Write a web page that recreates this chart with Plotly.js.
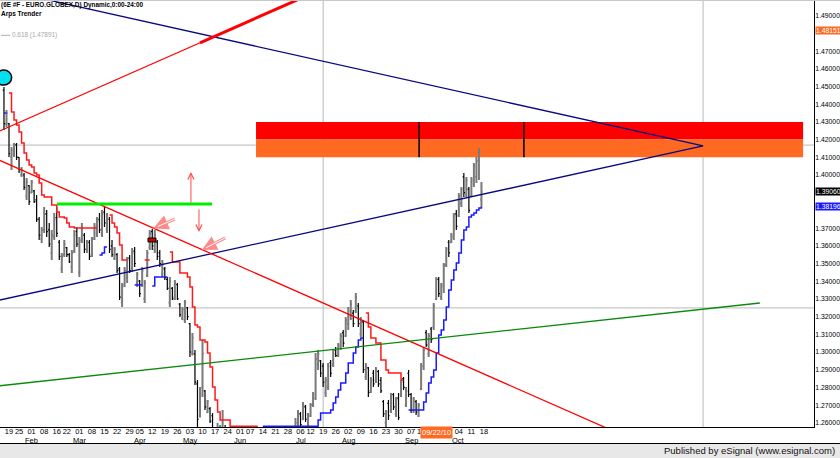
<!DOCTYPE html>
<html><head><meta charset="utf-8">
<script src="https://cdn.plot.ly/plotly-3.0.1.min.js"></script>
<style>html,body{margin:0;padding:0;background:#fff}#chart{width:840px;height:458px}</style>
</head><body><div id="chart"></div>
<script>
const N = null;
// trading-day index of first bar (0 = 19 Jan 2010)
const FIRST_INDEX = -2;
const open = [
1.4480,1.4290,1.4290,1.4100,1.4120,1.4170,1.4100,1.4000,1.4000,1.3880,
1.3940,1.3900,1.3910,1.3860,1.3750,1.3640,1.3690,1.3780,1.3690,1.3560,
1.3650,1.3760,1.3620,1.3470,1.3550,1.3590,1.3550,1.3480,1.3570,1.3680,
1.3450,1.3630,1.3660,1.3580,1.3620,1.3550,1.3640,1.3670,1.3750,1.3670,
1.3790,1.3690,1.3750,1.3600,1.3530,1.3550,1.3470,1.3280,1.3380,1.3420,
1.3530,1.3470,1.3570,1.3390,1.3400,1.3380,1.3300,1.3430,1.3590,1.3680,
1.3580,1.3620,1.3560,1.3440,1.3470,1.3410,1.3280,1.3360,1.3310,1.3380,
1.3270,1.3190,1.3180,1.3250,1.3160,1.2990,1.2990,1.2820,1.2640,1.2800,
1.2780,1.2660,1.2680,1.2640,1.2540,1.2380,1.2420,1.2450,1.2560,1.2380,
1.2250,1.2200,1.2340,1.2290,1.2240,1.2230,1.2220,1.2170,1.1970,1.1930,
1.1970,1.2070,1.2130,1.2110,1.2280,1.2300,1.2340,1.2380,1.2390,1.2310,
1.2280,1.2300,1.2250,1.2350,1.2270,1.2210,1.2560,1.2560,1.2650,1.2620,
1.2690,1.2580,1.2640,1.2700,1.2740,1.2930,1.2950,1.2920,1.2770,1.2800,
1.2940,1.2930,1.3010,1.2980,1.3030,1.3110,1.3090,1.3160,1.3200,1.3220,
1.3230,1.3260,1.3100,1.3170,1.2860,1.2910,1.2780,1.2880,1.2840,1.2890,
1.2840,1.2720,1.2600,1.2710,1.2670,1.2760,1.2650,1.2740,1.2760,1.2850,
1.2700,1.2880,1.2760,1.2670,1.2720,1.2640,1.2790,1.2920,1.3110,1.2990,
1.3130,1.3140,1.3300,1.3410,1.3310,1.3370,1.3490,1.3620,1.3620,1.3650,
1.3780,1.3770,1.3840,1.3990,1.3890,1.3920,1.3880,1.3950,1.3990,1.4080,
1.3860];
const high = [
1.4497,1.4367,1.4294,1.4158,1.4181,1.4181,1.4102,1.4045,1.4011,1.3983,
1.3944,1.3972,1.3915,1.3887,1.3763,1.3706,1.3819,1.3802,1.3729,1.3689,
1.3785,1.3819,1.3633,1.3559,1.3633,1.3593,1.3559,1.3576,1.3689,1.3706,
1.3650,1.3729,1.3672,1.3633,1.3633,1.3650,1.3729,1.3763,1.3785,1.3802,
1.3819,1.3785,1.3763,1.3633,1.3593,1.3559,1.3480,1.3390,1.3480,1.3537,
1.3548,1.3587,1.3593,1.3452,1.3407,1.3480,1.3407,1.3576,1.3689,1.3695,
1.3689,1.3633,1.3576,1.3520,1.3480,1.3424,1.3424,1.3367,1.3407,1.3390,
1.3277,1.3254,1.3294,1.3254,1.3164,1.3107,1.3011,1.2842,1.2802,1.3068,
1.2785,1.2729,1.2689,1.2655,1.2559,1.2599,1.2588,1.2672,1.2588,1.2450,
1.2300,1.2380,1.2380,1.2320,1.2340,1.2290,1.2310,1.2180,1.2010,1.2010,
1.2100,1.2150,1.2150,1.2300,1.2310,1.2350,1.2410,1.2400,1.2480,1.2330,
1.2320,1.2310,1.2370,1.2380,1.2300,1.2280,1.2627,1.2672,1.2661,1.2718,
1.2701,1.2655,1.2712,1.2774,1.2994,1.3011,1.2955,1.2938,1.2859,1.2938,
1.2955,1.3011,1.3028,1.3051,1.3107,1.3124,1.3198,1.3254,1.3294,1.3237,
1.3333,1.3277,1.3198,1.3181,1.2938,1.2915,1.2859,1.2898,1.2915,1.2898,
1.2859,1.2729,1.2672,1.2729,1.2768,1.2768,1.2746,1.2768,1.2842,1.2859,
1.2802,1.2898,1.2768,1.2746,1.2729,1.2712,1.2938,1.3028,1.3124,1.3107,
1.3141,1.3277,1.3424,1.3424,1.3390,1.3503,1.3593,1.3633,1.3672,1.3785,
1.3802,1.3898,1.3932,1.4011,1.3989,1.3932,1.3989,1.4068,1.4102,1.4153,
1.3960];
const low = [
1.4254,1.4271,1.4102,1.4028,1.4102,1.4085,1.4011,1.3989,1.3915,1.3859,
1.3831,1.3898,1.3842,1.3734,1.3633,1.3616,1.3672,1.3650,1.3593,1.3520,
1.3633,1.3650,1.3520,1.3446,1.3537,1.3537,1.3503,1.3446,1.3559,1.3593,
1.3424,1.3616,1.3559,1.3559,1.3520,1.3537,1.3633,1.3650,1.3672,1.3650,
1.3706,1.3672,1.3559,1.3537,1.3520,1.3446,1.3294,1.3254,1.3367,1.3390,
1.3446,1.3452,1.3480,1.3367,1.3311,1.3367,1.3277,1.3424,1.3576,1.3576,
1.3559,1.3520,1.3480,1.3424,1.3407,1.3350,1.3254,1.3294,1.3294,1.3294,
1.3198,1.3181,1.3164,1.3181,1.2972,1.2980,1.2814,1.2503,1.2630,1.2746,
1.2672,1.2655,1.2599,1.2503,1.2390,1.2362,1.2390,1.2446,1.2362,1.2150,
1.2150,1.2180,1.2260,1.2200,1.2110,1.2160,1.2160,1.1950,1.1880,1.1900,
1.1940,1.2030,1.2030,1.2090,1.2180,1.2240,1.2310,1.2340,1.2300,1.2240,
1.2230,1.2200,1.2240,1.2260,1.2150,1.2160,1.2555,1.2531,1.2571,1.2616,
1.2605,1.2559,1.2633,1.2689,1.2729,1.2898,1.2859,1.2802,1.2746,1.2785,
1.2859,1.2915,1.2972,1.2972,1.3011,1.3028,1.3085,1.3124,1.3181,1.3141,
1.3220,1.3141,1.3085,1.2881,1.2842,1.2746,1.2768,1.2802,1.2825,1.2802,
1.2768,1.2633,1.2576,1.2616,1.2655,1.2672,1.2633,1.2616,1.2746,1.2785,
1.2689,1.2746,1.2655,1.2655,1.2644,1.2633,1.2785,1.2898,1.3028,1.2972,
1.3051,1.3124,1.3294,1.3311,1.3294,1.3333,1.3480,1.3537,1.3616,1.3633,
1.3689,1.3763,1.3819,1.3876,1.3876,1.3785,1.3876,1.3932,1.3955,1.3972,
1.3819];
const close = [
1.4290,1.4350,1.4120,1.4140,1.4170,1.4100,1.4030,1.4030,1.3930,1.3960,
1.3850,1.3960,1.3850,1.3750,1.3660,1.3690,1.3780,1.3680,1.3610,1.3660,
1.3750,1.3670,1.3540,1.3540,1.3610,1.3550,1.3510,1.3560,1.3660,1.3610,
1.3630,1.3700,1.3580,1.3620,1.3540,1.3640,1.3710,1.3740,1.3690,1.3780,
1.3730,1.3760,1.3580,1.3550,1.3580,1.3460,1.3310,1.3370,1.3460,1.3520,
1.3460,1.3560,1.3500,1.3440,1.3330,1.3460,1.3390,1.3560,1.3670,1.3600,
1.3660,1.3540,1.3500,1.3500,1.3420,1.3360,1.3400,1.3300,1.3390,1.3300,
1.3210,1.3240,1.3280,1.3200,1.3000,1.3080,1.2830,1.2620,1.2760,1.2990,
1.2690,1.2720,1.2610,1.2530,1.2400,1.2560,1.2500,1.2560,1.2380,1.2250,
1.2200,1.2340,1.2290,1.2240,1.2230,1.2220,1.2170,1.1970,1.1930,1.1970,
1.2070,1.2130,1.2110,1.2280,1.2300,1.2340,1.2380,1.2390,1.2310,1.2280,
1.2300,1.2250,1.2350,1.2270,1.2210,1.2250,1.2600,1.2640,1.2590,1.2700,
1.2620,1.2640,1.2700,1.2760,1.2960,1.2990,1.2880,1.2830,1.2840,1.2920,
1.2880,1.2990,1.2980,1.3040,1.3090,1.3050,1.3180,1.3230,1.3270,1.3160,
1.3310,1.3160,1.3170,1.2900,1.2920,1.2770,1.2840,1.2820,1.2900,1.2820,
1.2780,1.2650,1.2660,1.2640,1.2750,1.2690,1.2730,1.2630,1.2830,1.2800,
1.2780,1.2760,1.2670,1.2730,1.2660,1.2700,1.2920,1.3010,1.3040,1.3090,
1.3070,1.3260,1.3410,1.3330,1.3380,1.3490,1.3580,1.3560,1.3660,1.3770,
1.3710,1.3880,1.3920,1.3900,1.3970,1.3800,1.3970,1.4050,1.4080,1.4110,
1.3906];
// Arps Trender trailing stops (red = short, blue = long)
const redTrail = [
N,N,1.4463,1.4356,1.4311,1.4282,1.4243,1.4181,1.4124,1.4085,
1.4056,1.4045,1.4011,1.4000,1.3955,1.3887,1.3876,1.3876,1.3876,1.3831,
1.3831,1.3791,1.3763,1.3763,1.3757,1.3729,1.3706,1.3706,1.3701,1.3701,
1.3701,1.3701,1.3701,1.3701,1.3701,1.3701,1.3701,1.3701,N,N,
N,N,1.3774,1.3729,1.3706,1.3672,1.3605,1.3520,1.3520,1.3520,
N,N,N,N,N,N,1.3520,1.3520,1.3520,N,
N,N,N,N,N,N,1.3565,1.3508,1.3508,1.3508,
1.3446,1.3446,1.3446,1.3424,1.3367,1.3254,1.3153,1.3141,1.3068,1.3068,
1.3056,1.2994,1.2915,1.2802,1.2729,1.2661,1.2616,1.2616,1.2616,1.2616,
1.2580,1.2580,1.2580,1.2580,1.2580,1.2580,1.2580,1.2580,1.2580,1.2580,
1.2580,1.2580,N,N,N,N,N,N,N,N,
N,N,N,N,N,N,N,N,N,N,
N,N,N,N,N,N,N,N,N,N,
N,N,N,N,N,N,N,N,N,N,
N,N,N,N,1.3220,1.3141,1.3079,1.3079,1.3051,1.3051,
1.2955,1.2955,1.2898,1.2881,1.2881,1.2881,1.2881,1.2881,1.2842,1.2842,
N,N,N,N,N,N,N,N,N,N,
N,N,N,N,N,N,N,N,N,N,
N,N,N,N,N,N,N,N,N,N,
N];
const blueTrail = [
1.4350,1.4350,N,N,N,N,N,N,N,N,
N,N,N,N,N,N,N,N,N,N,
N,N,N,N,N,N,N,N,N,N,
N,N,N,N,N,N,N,N,1.3548,1.3559,
1.3593,1.3593,N,N,N,N,N,N,N,N,
N,N,1.3379,1.3379,1.3379,1.3379,N,N,N,1.3373,
1.3424,1.3424,1.3424,1.3424,1.3424,1.3424,N,N,N,N,
N,N,N,N,N,N,N,N,N,N,
N,N,N,N,N,N,N,N,N,N,
N,N,N,N,N,N,N,N,N,N,
N,N,N,1.2580,1.2580,1.2580,1.2580,1.2580,1.2580,1.2580,
1.2580,1.2580,1.2580,1.2580,1.2580,1.2580,1.2580,1.2580,1.2580,1.2580,
1.2580,1.2580,1.2580,1.2580,1.2580,1.2616,1.2655,1.2655,1.2655,1.2655,
1.2672,1.2712,1.2746,1.2785,1.2825,1.2825,1.2881,1.2938,1.2938,1.2994,
1.3028,1.3068,1.3079,1.3079,N,N,N,N,N,N,
N,N,N,N,N,N,N,N,N,N,
N,1.2672,1.2672,1.2672,1.2672,1.2672,1.2672,1.2718,1.2768,1.2825,
1.2859,1.2898,1.2994,1.3096,1.3124,1.3181,1.3254,1.3350,1.3407,1.3463,
1.3503,1.3559,1.3633,1.3689,1.3706,1.3763,1.3774,1.3785,1.3802,1.3814,
1.3820];
// date axis labels (trading-day index -> label); 20 and 27 Sep sit under the cursor-date box
const tickIdx = [0,4,9,14,19,23,28,33,38,43,48,52,57,62,67,72,77,82,87,92,96,101,106,111,116,120,125,130,135,140,145,150,155,160,164,179,184,189];
const tickLbl = ["19","25","01","08","16","22","01","08","15","22","29","05","12","19","26","03","10","17","24","01","07","14","21","28","06","12","19","26","02","09","16","23","30","07","13","04","11","18"];
const monthIdx = [9,28,52,72,92,116,135,160,179];
const monthLbl = ["Feb","Mar","Apr","May","Jun","Jul","Aug","Sep","Oct"];
// price axis labels (1.48, 1.39, 1.38 sit under the value boxes)
const priceTicks = [1.26,1.27,1.28,1.29,1.30,1.31,1.32,1.33,1.34,1.35,1.36,1.37,1.40,1.41,1.42,1.43,1.44,1.45,1.46,1.47,1.49];
// drawing-tool anchors (trading-day index, price)
const navyUpperX = [-11.54, 276.2], navyUpperY = [1.5075, 1.4164];
const navyLowerX = [-11.54, 276.2], navyLowerY = [1.3269, 1.4164];
const redUpX = [-11.54, 127.73], redUpY = [1.4199, 1.5071];
const redUpBoldX = [76.0, 127.73], redUpBoldY = [1.4747, 1.5071];
const redDownX = [-11.54, 243.1], redDownY = [1.4132, 1.2537];
const greenX = [-11.54, 298.8], greenY = [1.2797, 1.3277];
const limeX = [19.1, 80.8], limeY = [1.3836, 1.3836];
const zoneX = [98.3, 316.0];
const zoneRed = [1.42, 1.43], zoneOrange = [1.41, 1.42];
const zoneMarks = [163.2, 204.9];
const hLevels = [1.4169, 1.3249];
const vLevels = [125.0, 276.2];
const fibLevel = 1.47891;
const lastClose = 1.39060, lastStop = 1.38196, topLevel = 1.48151;
const cursorDateIdx = 170, cursorDate = '09/22/10';

const idx = open.map((_, k) => FIRST_INDEX + k);
const line = (x, y, color, width) => ({type:'scatter', mode:'lines', x, y, line:{color, width}, hoverinfo:'skip', showlegend:false});

const traces = [
  {type:'ohlc', x: idx, open, high, low, close, tickwidth:0.5, hoverinfo:'skip', showlegend:false,
   increasing:{line:{color:'#7a7a7a', width:2}}, decreasing:{line:{color:'#000000', width:1.2}}},
  {type:'scatter', mode:'lines', x: idx, y: redTrail, line:{color:'#ff1a1a', width:1.5, shape:'hv'}, connectgaps:false, hoverinfo:'skip', showlegend:false},
  {type:'scatter', mode:'lines', x: idx, y: blueTrail, line:{color:'#1a1aff', width:1.5, shape:'hv'}, connectgaps:false, hoverinfo:'skip', showlegend:false},
  line(navyUpperX, navyUpperY, '#0a0a80', 1.3),
  line(navyLowerX, navyLowerY, '#0a0a80', 1.3),
  line(redUpX, redUpY, '#ff0000', 1.2),
  line(redUpBoldX, redUpBoldY, '#ff0000', 3),
  line(redDownX, redDownY, '#ff0000', 1.3),
  line(greenX, greenY, '#0a8a0a', 1.3),
  line(limeX, limeY, '#00ee00', 3)
];

const PW = 814, PT = 1, PB = 427, PH = PB - PT;
const px = v => v / PW;               // pixel x -> paper
const py = v => (PB - v) / PH;        // pixel y -> paper
const txt = '#000';
const FF = 'Liberation Sans, Arial, sans-serif';
const annotations = [
  {xref:'paper', yref:'paper', x:0, y:py(5.5), xanchor:'left', yanchor:'middle', showarrow:false, borderpad:0,
   text:'<b>(6E #F - EURO.GLOBEX,D) Dynamic,0:00-24:00</b>', font:{family:FF, size:6.4, color:txt}},
  {xref:'paper', yref:'paper', x:0, y:py(13.5), xanchor:'left', yanchor:'middle', showarrow:false, borderpad:0,
   text:'<b>Arps Trender</b>', font:{family:FF, size:6.5, color:txt}},
  {xref:'paper', yref:'y', x:px(11), y:fibLevel, xanchor:'left', yanchor:'middle', showarrow:false, borderpad:0,
   text:'0.618 (' + fibLevel.toFixed(5) + ')', font:{family:FF, size:6.4, color:'#a8a8a8'}},
  {xref:'paper', yref:'y', x:1, xshift:1, y:topLevel, xanchor:'left', yanchor:'middle', showarrow:false, borderpad:0,
   text:topLevel.toFixed(5), bgcolor:'#ff6a22', font:{family:FF, size:6.8, color:'#fff'}},
  {xref:'paper', yref:'y', x:1, xshift:1, y:lastClose, xanchor:'left', yanchor:'middle', showarrow:false, borderpad:0,
   text:lastClose.toFixed(5), bgcolor:'#000', font:{family:FF, size:6.8, color:'#fff'}},
  {xref:'paper', yref:'y', x:1, xshift:1, y:lastStop, xanchor:'left', yanchor:'middle', showarrow:false, borderpad:0,
   text:lastStop.toFixed(5), bgcolor:'#1a1aff', font:{family:FF, size:6.8, color:'#fff'}},
  {xref:'x', yref:'paper', x:cursorDateIdx, y:py(432), xanchor:'center', yanchor:'middle', showarrow:false, borderpad:1,
   text:cursorDate, bgcolor:'#ff6a22', font:{family:FF, size:7.5, color:'#fff'}},
  ...monthIdx.map((m, k) => ({xref:'x', yref:'paper', x:m, y:py(440.5), xanchor:'center', yanchor:'middle', showarrow:false, borderpad:0,
   text:monthLbl[k], font:{family:FF, size:7.5, color:'#000'}})),
  {xref:'paper', yref:'paper', x:px(836), y:py(451), xanchor:'right', yanchor:'middle', showarrow:false, borderpad:0,
   text:'Published by eSignal (www.esignal.com)', font:{family:FF, size:9.5, color:'#111'}},
  // vertical target arrows
  {xref:'x', yref:'y', axref:'x', ayref:'y', x:72.4, y:1.4017, ax:72.4, ay:1.3836, text:'', showarrow:true,
   arrowhead:5, arrowsize:1.2, arrowwidth:1, arrowcolor:'#ff4a4a'},
  {xref:'x', yref:'y', axref:'x', ayref:'y', x:75.6, y:1.3678, ax:75.6, ay:1.3814, text:'', showarrow:true,
   arrowhead:5, arrowsize:1.2, arrowwidth:1, arrowcolor:'#ff4a4a'},
  // hollow pointer arrows
  {xref:'x', yref:'y', x:57.4, y:1.3698, ax:23, ay:-10, text:'', showarrow:true, arrowhead:2, arrowsize:1, arrowwidth:3, arrowcolor:'#ff8a8a'},
  {xref:'x', yref:'y', x:57.4, y:1.3698, ax:23, ay:-10, text:'', showarrow:true, arrowhead:0, arrowwidth:1, arrowcolor:'#ffffff', standoff:5},
  {xref:'x', yref:'y', x:76.7, y:1.3576, ax:25, ay:-13, text:'', showarrow:true, arrowhead:2, arrowsize:1, arrowwidth:3, arrowcolor:'#ff8a8a'},
  {xref:'x', yref:'y', x:76.7, y:1.3576, ax:25, ay:-13, text:'', showarrow:true, arrowhead:0, arrowwidth:1, arrowcolor:'#ffffff', standoff:5}
];

const shapes = [
  {type:'rect', xref:'x', yref:'y', x0:zoneX[0], x1:zoneX[1], y0:zoneRed[0], y1:zoneRed[1], fillcolor:'#ff0000', line:{width:0}, layer:'below'},
  {type:'rect', xref:'x', yref:'y', x0:zoneX[0], x1:zoneX[1], y0:zoneOrange[0], y1:zoneOrange[1], fillcolor:'#ff6a22', line:{width:0}, layer:'below'},
  ...hLevels.map(v => ({type:'line', xref:'paper', yref:'y', x0:0, x1:1, y0:v, y1:v, line:{color:'#b8b8b8', width:1}, layer:'below'})),
  ...vLevels.map(v => ({type:'line', xref:'x', yref:'paper', x0:v, x1:v, y0:0, y1:1, line:{color:'#b8b8b8', width:1}, layer:'below'})),
  ...zoneMarks.map(v => ({type:'line', xref:'x', yref:'y', x0:v, x1:v, y0:zoneOrange[0], y1:zoneRed[1], line:{color:'#000', width:1.5}})),
  {type:'line', xref:'x', yref:'y', x0:-3.2, x1:0.4, y0:fibLevel, y1:fibLevel, line:{color:'#b0b0b0', width:1}},
  {type:'circle', xref:'x', yref:'y', x0:-5.37, x1:1.07, y0:1.4508, y1:1.4593, fillcolor:'#00e0f0', line:{color:'#000', width:1.5}},
  {type:'rect', xref:'x', yref:'y', x0:55.3, x1:58.5, y0:1.3622, y1:1.3644, fillcolor:'#d00000', line:{color:'#000', width:1}},
  // footer
  {type:'rect', xref:'paper', yref:'paper', x0:-0.01, x1:1.05, y0:py(444), y1:py(460), fillcolor:'#e8e8e8', line:{width:0}},
  {type:'line', xref:'paper', yref:'paper', x0:-0.01, x1:1.05, y0:py(443.5), y1:py(443.5), line:{color:'#000', width:1}},
  {type:'line', xref:'paper', yref:'paper', x0:-0.01, x1:1.05, y0:py(0.5), y1:py(0.5), line:{color:'#c8c8c8', width:1}}
];

const layout = {
  width:840, height:458,
  margin:{l:0, r:840-PW, t:PT, b:458-PB, pad:0},
  paper_bgcolor:'#fff', plot_bgcolor:'#fff',
  showlegend:false,
  xaxis:{range:[-9/2.513, (PW-9)/2.513], tickmode:'array', tickvals:tickIdx, ticktext:tickLbl, tickangle:0,
         showgrid:false, zeroline:false, showline:true, linecolor:'#000', linewidth:1, ticks:'', ticklabelstandoff:-3,
         tickfont:{family:FF, size:7.5, color:'#000'}, rangeslider:{visible:false}, fixedrange:true},
  yaxis:{side:'right', range:[1.25763, 1.49831], tickmode:'array', tickvals:priceTicks, ticktext:priceTicks.map(v => v.toFixed(5)),
         showgrid:false, zeroline:false, showline:true, linecolor:'#000', linewidth:1, ticks:'', ticklabelstandoff:-1,
         tickfont:{family:FF, size:6.8, color:'#000'}, fixedrange:true},
  annotations, shapes
};
Plotly.newPlot('chart', traces, layout, {staticPlot:true, displayModeBar:false});
</script></body></html>
